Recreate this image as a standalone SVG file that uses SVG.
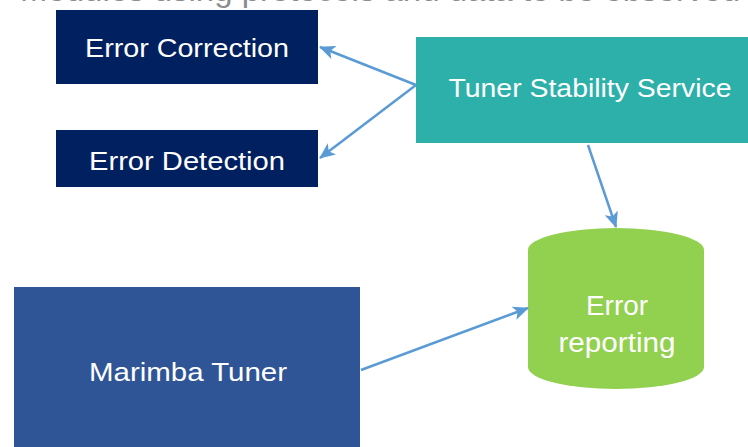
<svg xmlns="http://www.w3.org/2000/svg" width="748" height="447" viewBox="0 0 748 447">
  <style>
    .lbl { font-family: "Liberation Sans", "Open Sans", sans-serif; fill: #ffffff; text-anchor: middle; }
    .conn { stroke: #5b9bd5; stroke-width: 2.5; fill: none; marker-end: url(#arrow); }
  </style>
  <defs>
    <marker id="arrow" markerUnits="userSpaceOnUse" markerWidth="16" markerHeight="14" refX="15" refY="7" orient="auto">
      <path d="M0,0 L16,7 L0,14 L4,7 Z" fill="#5b9bd5"/>
    </marker>
  </defs>
  <rect width="748" height="447" fill="#ffffff"/>

  <!-- heading running off the top edge -->
  <text x="20" y="1" font-family="'Liberation Sans', sans-serif" font-size="32" fill="#8c8c8c" textLength="720" lengthAdjust="spacingAndGlyphs">Modules using protocols and data to be observed</text>

  <g id="error-correction">
    <rect x="56" y="10" width="262" height="74" fill="#002060"/>
    <text class="lbl" x="187" y="57" font-size="26" textLength="204" lengthAdjust="spacingAndGlyphs">Error Correction</text>
  </g>
  <g id="error-detection">
    <rect x="56" y="130" width="262" height="57" fill="#002060"/>
    <text class="lbl" x="187" y="170" font-size="26" textLength="196" lengthAdjust="spacingAndGlyphs">Error Detection</text>
  </g>
  <g id="tuner-stability-service">
    <rect x="416" y="37" width="332" height="106" fill="#2eb0aa"/>
    <text class="lbl" x="590" y="97" font-size="26" textLength="283" lengthAdjust="spacingAndGlyphs">Tuner Stability Service</text>
  </g>
  <g id="error-reporting">
    <path d="M528,250 A88,22 0 0 1 704,250 L704,367 A88,22 0 0 1 528,367 Z" fill="#92d050"/>
    <text class="lbl" x="617" y="315" font-size="27" textLength="62" lengthAdjust="spacingAndGlyphs">Error</text>
    <text class="lbl" x="617" y="352" font-size="27" textLength="117" lengthAdjust="spacingAndGlyphs">reporting</text>
  </g>
  <g id="marimba-tuner">
    <rect x="14" y="287" width="346" height="160" fill="#2f5597"/>
    <text class="lbl" x="188" y="381" font-size="26" textLength="198" lengthAdjust="spacingAndGlyphs">Marimba Tuner</text>
  </g>

  <g id="connectors">
    <line class="conn" x1="416" y1="85" x2="320" y2="47"/>
    <line class="conn" x1="416" y1="85" x2="320" y2="158"/>
    <line class="conn" x1="588" y1="145" x2="616" y2="227"/>
    <line class="conn" x1="361" y1="370" x2="528" y2="308"/>
  </g>
</svg>
